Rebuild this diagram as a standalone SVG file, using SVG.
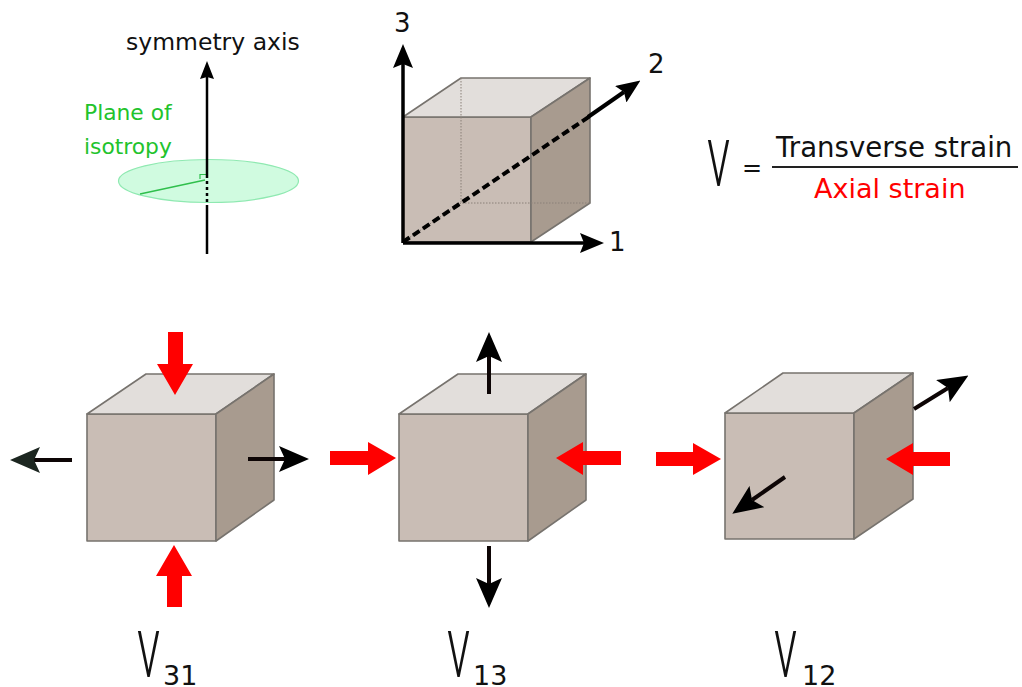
<svg xmlns="http://www.w3.org/2000/svg" width="1022" height="687" viewBox="0 0 1022 687">
<style>
text{font-family:"DejaVu Sans",Verdana,sans-serif;fill:#111}
.front{fill:#c9bdb5}.top{fill:#e2dedb}.side{fill:#a89b8f}
.front,.top,.side{stroke:#77736e;stroke-width:1.6;stroke-linejoin:round}
.hid{fill:none;stroke:#8a8078;stroke-width:1;stroke-dasharray:1.5 1.5}
.ax{fill:none;stroke:#000;stroke-width:3.500}
.thick{stroke-width:4}
.bk{fill:none;stroke:#0d0505;stroke-width:4}
.red{fill:#ff0000}
.nu{font-family:"Roboto",sans-serif;font-weight:300;font-size:30px;fill:#111}
.sub{font-size:27px}
</style>
<defs>
<marker id="hl" markerUnits="userSpaceOnUse" viewBox="0 0 30 26" refX="6" refY="13" markerWidth="30" markerHeight="26" orient="auto"><path d="M30,13 L0,0 L6,13 L0,26 Z" fill="#000"/></marker>
<marker id="hd" markerUnits="userSpaceOnUse" viewBox="0 0 30 26" refX="6" refY="13" markerWidth="30" markerHeight="26" orient="auto"><path d="M30,13 L0,0 L6,13 L0,26 Z" fill="#1c2620"/></marker>
<marker id="hs" markerUnits="userSpaceOnUse" viewBox="0 0 24 20" refX="4" refY="10" markerWidth="24" markerHeight="20" orient="auto"><path d="M24,10 L0,0 L4,10 L0,20 Z" fill="#000"/></marker>
<marker id="hx" markerUnits="userSpaceOnUse" viewBox="0 0 18 14" refX="2" refY="7" markerWidth="18" markerHeight="14" orient="auto"><path d="M18,7 L0,0 L2,7 L0,14 Z" fill="#000"/></marker>
</defs>

<g id="plane-of-isotropy">
<line x1="207" y1="254" x2="207" y2="205" stroke="#000" stroke-width="2.500"/>
<ellipse cx="208.500" cy="181" rx="90" ry="21.500" fill="#d0fbe0" stroke="#8fe9b1" stroke-width="1.200"/>
<line x1="140" y1="194" x2="205" y2="180" stroke="#2fbf4c" stroke-width="1.400"/>
<path d="M200,179 V174.500 H207" fill="none" stroke="#2fbf4c" stroke-width="1.200"/>
<line x1="207" y1="181" x2="207" y2="203" stroke="#000" stroke-width="2.500" stroke-dasharray="3 3"/>
<line x1="207" y1="178" x2="207" y2="77" stroke="#000" stroke-width="2.500" marker-end="url(#hx)"/>
<text x="126" y="50" font-size="23.500">symmetry axis</text>
<text x="84" y="120" font-size="21.800" style="fill:#22c32c">Plane of</text>
<text x="84" y="154" font-size="21.800" style="fill:#22c32c">isotropy</text>
</g>

<g id="reference-cube">
<polygon class="front" points="403,117 531,117 531,242 403,242"/>
<polygon class="top" points="403,117 461,78 590,78 531,117"/>
<polygon class="side" points="531,117 590,78 590,203 531,242"/>
<path class="hid" d="M461,78 V203 H590 M461,203 L403,242"/>
<text x="394" y="32" font-size="26">3</text>
<text x="648" y="73" font-size="26">2</text>
<text x="609" y="251" font-size="26">1</text>
</g>

<g id="strain-formula">
<text x="0" y="0" class="nu" transform="translate(707,186) scale(1.600,2.900)">ν</text>
<text x="742" y="176" font-size="24">=</text>
<text x="776" y="157" font-size="27.600">Transverse strain</text>
<line x1="772" y1="167" x2="1018" y2="167" stroke="#222" stroke-width="2"/>
<text x="814" y="198" font-size="27" style="fill:#ff0000">Axial strain</text>
</g>

<g id="cube-31">
<polygon class="front" points="87,414 216,414 216,541 87,541"/>
<polygon class="top" points="87,414 146,374 274,374 216,414"/>
<polygon class="side" points="216,414 274,374 274,500 216,541"/>
<text x="0" y="0" class="nu" transform="translate(137,677) scale(1.600,2.900)">ν</text>
<text x="163" y="685" class="sub">31</text>
</g>
<g id="cube-13">
<polygon class="front" points="399,414 528,414 528,541 399,541"/>
<polygon class="top" points="399,414 458,374 586,374 528,414"/>
<polygon class="side" points="528,414 586,374 586,500 528,541"/>
<text x="0" y="0" class="nu" transform="translate(447,677) scale(1.600,2.900)">ν</text>
<text x="473" y="685" class="sub">13</text>
</g>
<g id="cube-12">
<polygon class="front" points="725,413 854,413 854,539 725,539"/>
<polygon class="top" points="725,413 783,373 913,373 854,413"/>
<polygon class="side" points="854,413 913,373 913,499 854,539"/>
<text x="0" y="0" class="nu" transform="translate(774,677) scale(1.600,2.900)">ν</text>
<text x="802" y="685" class="sub">12</text>
</g>

<g id="connectors">
<line x1="403" y1="243" x2="403" y2="64" class="ax" marker-end="url(#hs)"/>
<line x1="403" y1="243" x2="584" y2="243" class="ax" marker-end="url(#hs)"/>
<line x1="403" y1="242" x2="590" y2="116" class="ax thick" stroke-dasharray="8 4"/>
<line x1="588" y1="117" x2="624" y2="92" class="ax thick" marker-end="url(#hs)"/>

<path class="red" d="M168,332 H183 V364 H193 L175,395 L157,364 H168 Z"/>
<path class="red" d="M167,607 H182 V576 H192 L174,545 L156,576 H167 Z"/>
<path class="red" d="M330,451 H368 V442 L396,458 L368,475 V465 H330 Z"/>
<path class="red" d="M621,451 H583 V442 L556,458 L583,475 V465 H621 Z"/>
<path class="red" d="M656,452 H693 V443 L721,459 L693,475 V466 H656 Z"/>
<path class="red" d="M950,452 H913 V443 L886,459 L913,475 V466 H950 Z"/>

<line x1="72" y1="460" x2="34" y2="460" class="bk" marker-end="url(#hd)"/>
<line x1="248" y1="459" x2="285" y2="459" class="bk" marker-end="url(#hl)"/>
<line x1="489" y1="394" x2="489" y2="356" class="bk" marker-end="url(#hl)"/>
<line x1="489" y1="546" x2="489" y2="584" class="bk" marker-end="url(#hl)"/>
<line x1="914" y1="409" x2="948" y2="388" class="bk" marker-end="url(#hl)"/>
<line x1="785" y1="477" x2="752" y2="500" class="bk" marker-end="url(#hl)"/>
</g>
</svg>
